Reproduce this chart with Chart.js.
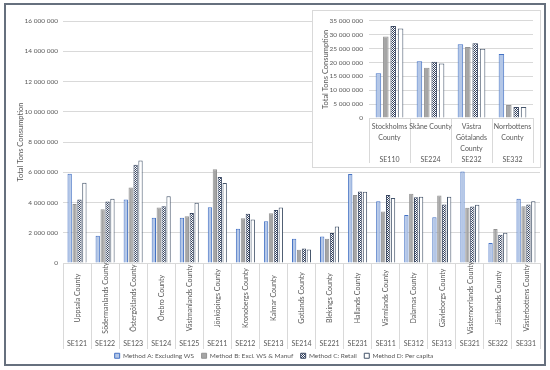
<!DOCTYPE html>
<html><head><meta charset="utf-8">
<script src="https://cdn.jsdelivr.net/npm/chart.js@4.4.0/dist/chart.umd.min.js"></script>
<style>
html,body{margin:0;padding:0;background:#fff;}
#wrap{position:relative;width:550px;height:370px;overflow:hidden;}
#main{position:absolute;left:0;top:0;}
#insetBox{position:absolute;left:312px;top:10px;width:227px;height:156px;border:1px solid #d9d9d9;background:#fff;}
#inset{display:block;}
#frame{position:absolute;left:4px;top:3px;width:538px;height:359px;border:2px solid #66707e;pointer-events:none;}
</style></head><body>
<div id="wrap">
<canvas id="main" width="550" height="370"></canvas>
<div id="insetBox"><canvas id="inset" width="227" height="156"></canvas></div>
<div id="frame"></div>
</div>
<script>
// ---- main chart data ----
const codes = ["SE121","SE122","SE123","SE124","SE125","SE211","SE212","SE213","SE214","SE221","SE231","SE311","SE312","SE313","SE321","SE322","SE331"];
const counties = ["Uppsala County","Södermanlands County","Östergötlands County","Örebro County","Västmanlands County","Jönköpings County","Kronobergs County","Kalmar County","Gotlands County","Blekings County","Hallands County","Värmlands County","Dalarnas County","Gävleborgs County","Västernorrlands County","Jämtlands County","Västerbottens County"];
const methodA = [5900000,1800000,4200000,3000000,3000000,3690000,2270000,2760000,1600000,1760000,5890000,4090000,3180000,3020000,6050000,1330000,4250000];
const methodB = [3900000,3550000,5000000,3670000,3090000,6200000,2960000,3290000,870000,1600000,4490000,3400000,4580000,4470000,3650000,2250000,3760000];
const methodC = [4200000,4070000,6500000,3760000,3310000,5690000,3250000,3510000,960000,1980000,4730000,4490000,4340000,3870000,3740000,1870000,3870000];
const methodD = [5300000,4250000,6780000,4420000,3980000,5290000,2870000,3670000,890000,2420000,4710000,4300000,4380000,4380000,3850000,2000000,4090000];

// ---- inset chart data ----
const insetCodes = ["SE110","SE224","SE232","SE332"];
const insetNames = [["Stockholms","County"],["Skåne County"],["Västra","Götalands","County"],["Norrbottens","County"]];
const insetA = [16100000,20500000,26600000,23100000];
const insetB = [29400000,18100000,25600000,4700000];
const insetC = [33200000,20300000,26900000,4000000];
const insetD = [32300000,19600000,25000000,4000000];

const seriesNames = ["Method A: Excluding WS","Method B: Excl. WS & Manuf","Method C: Retail","Method D: Per capita"];
const mainTicks = {min:0,max:16000000,step:2000000};
const insetTicks = {min:0,max:35000000,step:5000000};

const FONT = 'Lato';
const TXT = '#595959';
const GRID = '#d9d9d9';
function fmt(v){return String(v).replace(/\B(?=(\d{3})+(?!\d))/g,' ');}
function makePattern(ctx){
  const c=document.createElement('canvas'); c.width=4;c.height=4;
  const x=c.getContext('2d'); x.fillStyle='#ffffff'; x.fillRect(0,0,4,4);
  x.fillStyle='#33415e';
  for(let i=0;i<4;i++)for(let j=0;j<4;j++) if((i+j)%2===0) x.fillRect(i,j,1,1);
  return ctx.createPattern(c,'repeat');
}
function datasets(ctx,a,b,c,d){
  const pat = makePattern(ctx);
  return [
    {label:seriesNames[0],data:a,backgroundColor:'#b4c7e7',borderColor:'#4472c4',borderWidth:1},
    {label:seriesNames[1],data:b,backgroundColor:'#a5a5a5',borderColor:'#939393',borderWidth:1},
    {label:seriesNames[2],data:c,backgroundColor:pat,borderColor:'#3a4862',borderWidth:1},
    {label:seriesNames[3],data:d,backgroundColor:'#ffffff',borderColor:'#44546a',borderWidth:1}
  ];
}

// draws the two-level category labels (rotated county name + region code) at the x scale's positions
const twoLevelLabels = {
  id:'twoLevelLabels',
  afterDraw(chart){
    const xs = chart.scales.x, ctx = chart.ctx;
    ctx.save();
    ctx.fillStyle = TXT; ctx.textAlign='center'; ctx.textBaseline='middle';
    counties.forEach((n,i)=>{
      const x = xs.getPixelForValue(i);
      ctx.font = '7px '+FONT;
      ctx.save(); ctx.translate(x+0.5, xs.top+35); ctx.rotate(-Math.PI/2); ctx.fillText(n,0,0); ctx.restore();
      ctx.font = '7px '+FONT;
      ctx.fillText(codes[i], x, xs.top+81);
    });
    ctx.restore();
  }
};

const mctx = document.getElementById('main').getContext('2d');
new Chart(mctx,{
  type:'bar',
  data:{labels:codes,datasets:datasets(mctx,methodA,methodB,methodC,methodD)},
  options:{
    responsive:false,animation:false,
    layout:{padding:{left:8,right:10,top:21,bottom:1}},
    datasets:{bar:{categoryPercentage:0.7,barPercentage:0.88}},
    plugins:{
      legend:{position:'bottom',labels:{boxWidth:5,boxHeight:5,padding:7.5,color:TXT,font:{family:FONT,size:6.5,lineHeight:1.25}}},
      tooltip:{enabled:false}
    },
    scales:{
      x:{
        grid:{offset:true,drawOnChartArea:false,drawTicks:true,tickLength:86,color:GRID},
        border:{color:GRID},
        ticks:{display:false,autoSkip:false,maxRotation:0,minRotation:0},
        afterFit(s){s.height=82;}
      },
      y:{
        min:mainTicks.min,max:mainTicks.max,
        ticks:{stepSize:mainTicks.step,padding:5,color:TXT,font:{family:FONT,size:6.5},callback:v=>fmt(v)},
        grid:{color:GRID,drawTicks:false},
        border:{display:false},
        title:{display:true,text:'Total Tons Consumption',color:TXT,font:{family:FONT,size:7.5},padding:{top:8,bottom:0}},
        afterFit(s){s.width=55;}
      }
    }
  },
  plugins:[twoLevelLabels]
});

const ictx = document.getElementById('inset').getContext('2d');
const insetLabels = insetNames.map((lines,i)=>{
  const l = lines.slice(); while(l.length<3) l.push(''); l.push(insetCodes[i]); return l;
});
new Chart(ictx,{
  type:'bar',
  data:{labels:insetLabels,datasets:datasets(ictx,insetA,insetB,insetC,insetD)},
  options:{
    responsive:false,animation:false,
    layout:{padding:{left:2,right:7,top:8,bottom:0}},
    datasets:{bar:{categoryPercentage:0.72,barPercentage:0.75}},
    plugins:{legend:{display:false},tooltip:{enabled:false}},
    scales:{
      x:{
        grid:{offset:true,drawOnChartArea:false,drawTicks:true,tickLength:45,color:GRID},
        border:{color:GRID},
        ticks:{padding:-42,autoSkip:false,maxRotation:0,minRotation:0,color:TXT,font:{family:FONT,size:7,lineHeight:1.6}},
        afterFit(s){s.height=49;}
      },
      y:{
        min:insetTicks.min,max:insetTicks.max,
        ticks:{stepSize:insetTicks.step,padding:6,color:TXT,font:{family:FONT,size:6.5},callback:v=>fmt(v)},
        grid:{color:GRID,drawTicks:false},
        border:{display:false},
        title:{display:true,text:'Total Tons Consumption',color:TXT,font:{family:FONT,size:7.5},padding:{top:6,bottom:0}},
        afterFit(s){s.width=54;}
      }
    }
  }
});
</script>
</body></html>
